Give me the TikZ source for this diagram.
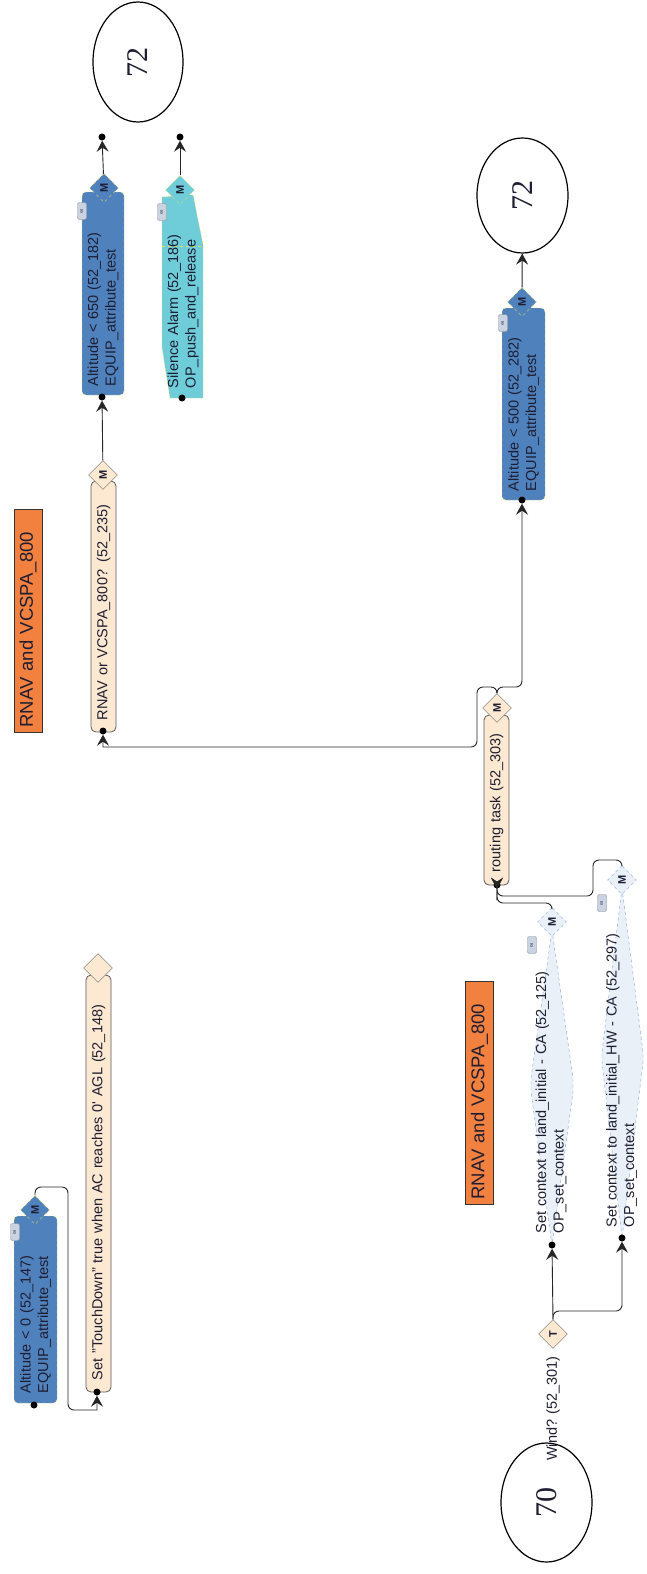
\documentclass[tikz,border=0pt]{standalone}
\usepackage{fontspec}
\setmainfont{Liberation Sans}
\newfontfamily\termfont{Liberation Serif}
\usepackage{tikz}
\usetikzlibrary{arrows.meta,positioning,shapes.geometric,calc}
\definecolor{eqblue}{HTML}{4F81BD}
\definecolor{opcyan}{HTML}{6FCDD9}
\definecolor{peach}{HTML}{FDE9D2}
\definecolor{tagorange}{HTML}{F28140}
\definecolor{ctxfill}{HTML}{E9F0F8}
\definecolor{ctxline}{HTML}{7FA3D6}
\definecolor{dashyel}{HTML}{E2DC5A}
\definecolor{ink}{HTML}{1E1E32}
\definecolor{linkgray}{HTML}{C9D3E2}

\begin{document}
\begin{tikzpicture}[
  x=1pt, y=-1pt,
  every node/.append style={text=ink},
  txt/.style={font=\fontsize{14.5}{17.5}\selectfont, rotate=90, align=left, inner sep=0pt},
  eq/.style={txt, draw=dashyel, dashed, fill=eqblue, rounded corners=4pt},
  task/.style={txt, draw=black!65, fill=peach, rounded corners=5pt, line width=0.8pt},
  tag/.style={rotate=90, draw=black!80, fill=tagorange, font=\fontsize{18.5}{20}\selectfont, align=left, inner sep=0pt, minimum width=223pt, minimum height=28pt, text width=214pt},
  term/.style={ellipse, draw, line width=1.2pt, rotate=90, font=\termfont\fontsize{30}{30}\selectfont, inner sep=0pt},
  port/.style={circle, fill=black, inner sep=0pt, minimum size=7pt},
  mout/.style={diamond, rotate=90, inner sep=0pt, minimum size=29pt, font=\bfseries\fontsize{11}{11}\selectfont},
  link/.style={rotate=90, draw=black!45, fill=linkgray, rounded corners=2pt, minimum width=17pt, minimum height=9pt, inner sep=0pt, font=\fontsize{6}{6}\selectfont},
  arr/.style={-{Stealth[length=11pt,width=12pt,inset=4pt]}, draw=black!85, line width=0.9pt},
  elbow/.style={rounded corners=6pt}
]
\path[use as bounding box, fill=white] (0,0) rectangle (647,1574);

\node[term, minimum width=120pt, minimum height=90pt] (top72) at (138,62) {72};
\node[port] (end1) at (102,137) {};
\node[port] (end2) at (180,137) {};
\node[eq, minimum width=203pt, minimum height=42pt, text width=185pt] (alt650) at (103,293.5) {Altitude < 650 (52\_182)\\EQUIP\_attribute\_test};
\node[mout, fill=eqblue, draw=dashyel, dashed] (alt650out) at (104,188) {M};
\node[port] (alt650in) at (102,397) {};
\node[link] at (82,211) {∞};

\filldraw[fill=opcyan, draw=dashyel, dashed] (162,197) -- (193,195) -- (203,245) -- (203,398) -- (170,398) -- (162,347) -- cycle;
\draw[dashyel, dashed] (162,246) -- (203,246);
\node[txt, text width=183pt] (sil) at (183,296.5) {Silence Alarm (52\_186)\\OP\_push\_and\_release};
\node[mout, fill=opcyan, draw=dashyel, dashed] (silout) at (180,190) {M};
\node[port] (silin) at (182,398) {};
\node[link] at (162,212) {∞};

\node[tag] (tag1) at (28,620.5) {RNAV and VCSPA\_800};
\node[tag] (tag2) at (479.5,1092.5) {RNAV and VCSPA\_800};

\node[task, minimum width=251pt, minimum height=25pt, text width=227pt] (rnav) at (103.5,606.5) {RNAV or VCSPA\_800? (52\_235)};
\node[mout, fill=peach, draw=black!60] (rnavout) at (103,475) {M};
\node[port] (rnavin) at (103,731) {};

\node[term, minimum width=115pt, minimum height=91pt] (e72) at (522.5,195.5) {72};
\node[eq, minimum width=192pt, minimum height=43pt, text width=174pt] (alt500) at (523.5,404) {Altitude < 500 (52\_282)\\EQUIP\_attribute\_test};
\node[mout, fill=eqblue, draw=dashyel, dashed] (alt500out) at (522,302) {M};
\node[port] (alt500in) at (522,500) {};
\node[link] at (503,323) {∞};

\node[task, minimum width=170pt, minimum height=25pt, text width=144pt] (route) at (496.5,800) {routing task (52\_303)};
\node[mout, fill=peach, draw=black!60] (rtout) at (497,708) {M};
\node[port] (rtin) at (497,885) {};

\filldraw[fill=ctxfill, draw=ctxline, dashed] (552,930) -- (573,1078) -- (573,1092) -- (552,1245) -- (531,1092) -- (531,1078) -- cycle;
\filldraw[fill=ctxfill, draw=ctxline, dashed] (622,888) -- (643,1052) -- (643,1062) -- (622,1238) -- (602,1062) -- (602,1052) -- cycle;
\node[txt, text width=275pt] (ca) at (551,1095.5) {Set context to land\_initial - CA (52\_125)\\OP\_set\_context};
\node[txt, text width=300pt] (hw) at (621.5,1077) {Set context to land\_initial\_HW - CA (52\_297)\\OP\_set\_context};
\node[mout, fill=ctxfill, draw=ctxline, dashed] (caout) at (552,922) {M};
\node[mout, fill=ctxfill, draw=ctxline, dashed] (hwout) at (622,880) {M};
\node[port] (cain) at (552,1245) {};
\node[port] (hwin) at (622,1238) {};
\node[link] at (532,945) {∞};
\node[link] at (602,903) {∞};

\node[mout, fill=peach, draw=black!60] (wind) at (553,1334) {T};
\node[txt] (windlab) at (553,1408.5) {Wind? (52\_301)};
\node[term, minimum width=119pt, minimum height=91pt] (e70) at (546.5,1502.5) {70};

\node[task, minimum width=417pt, minimum height=25pt, text width=393pt] (td) at (98.5,1183.5) {Set "TouchDown" true when AC reaches 0\textquotesingle\ AGL (52\_148)};
\node[mout, fill=peach, draw=black!60] (tdout) at (98,968) {};
\node[port] (tdin) at (97,1392) {};
\node[eq, minimum width=187pt, minimum height=43pt, text width=167pt] (alt0) at (35.5,1309.5) {Altitude < 0 (52\_147)\\EQUIP\_attribute\_test};
\node[mout, fill=eqblue, draw=dashyel, dashed] (alt0out) at (35,1210) {M};
\node[port] (alt0in) at (34,1405) {};
\node[link] at (15,1232) {∞};

\coordinate (j1) at (477,687);
\coordinate (j2) at (477,747);
\coordinate (j3) at (522,687);
\coordinate (m1) at (552,903);
\coordinate (m2) at (593,860);
\coordinate (m3) at (593,896);
\coordinate (w1) at (553,1311);
\coordinate (k1) at (68,1187);
\coordinate (k2) at (68,1410);

\draw[arr] (alt650out) -- (end1);
\draw[arr] (silout) -- (end2);
\draw[arr] (rnavout) -- (alt650in);
\draw[arr] (alt500out) -- (e72);
\draw[arr] (rtout.east) [elbow] |- (j1) -- (j2) [sharp corners] -| (rnavin);
\draw[arr] (rtout.east) [elbow] |- (j3) [sharp corners] -- (alt500in);
\draw[arr] (caout.east) [elbow] -- (m1) -| ($(rtin)+(0,9)$) [sharp corners] -- (rtin);
\draw[arr] (hwout.east) [elbow] |- (m2) -- (m3) -| ($(rtin)+(0,9)$) [sharp corners] -- (rtin);
\draw[arr] (wind.east) -- (cain);
\draw[arr] (wind.east) [elbow] -- (w1) -| ($(hwin)+(0,14)$) [sharp corners] -- (hwin);
\draw[arr] (alt0out.east) [elbow] |- (k1) -- (k2) [sharp corners] -| (tdin);
\end{tikzpicture}
\end{document}
